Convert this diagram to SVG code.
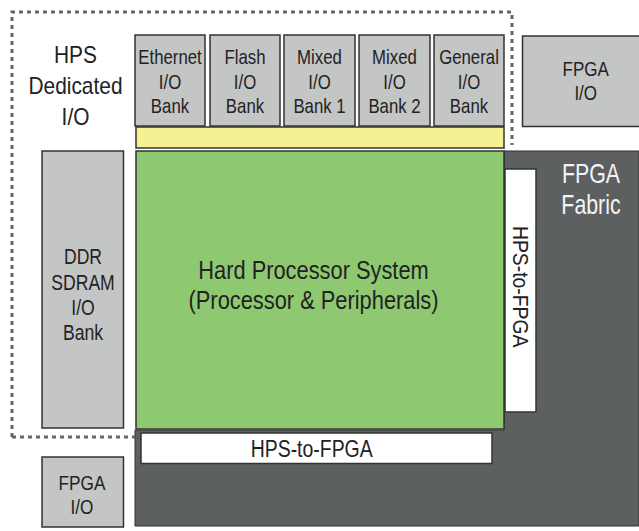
<svg xmlns="http://www.w3.org/2000/svg" width="639" height="531" viewBox="0 0 639 531">
<style>
.io{fill:#c4c5c5;stroke:#333;stroke-width:1.5}
.wb{fill:#fff;stroke:#333;stroke-width:1.5}
text{font-family:"Liberation Sans",Arial,sans-serif;fill:#222;text-anchor:middle}
.s{font-size:20px}
.d{font-size:22px}
.h{font-size:24px}
.l{font-size:26px}
.f{font-size:27px;fill:#f4f4f4}
</style>
<rect width="639" height="531" fill="#fff"/>
<g id="fabric">
<path d="M504,151 H639 V526 H135 V430 H504 Z" fill="#5d6061" stroke="#333" stroke-width="1"/>
<text class="f" transform="translate(591,183.3) scale(0.79,1)">FPGA</text>
<text class="f" transform="translate(591,214) scale(0.79,1)">Fabric</text>
</g>
<g id="hps-dedicated">
<path d="M12,437 V12 H512 V145" fill="none" stroke="#666" stroke-width="3" stroke-dasharray="4,4"/>
<path d="M12,437 H135" fill="none" stroke="#666" stroke-width="3" stroke-dasharray="4,4"/>
<text class="h" transform="translate(75.5,63.3) scale(0.87,1)">HPS</text>
<text class="h" transform="translate(75.5,94.3) scale(0.87,1)">Dedicated</text>
<text class="h" transform="translate(75.5,125) scale(0.87,1)">I/O</text>
</g>
<g id="ethernet"><rect class="io" x="135" y="35" width="70" height="91"/>
<text class="s" transform="translate(170,64) scale(0.84,1)">Ethernet</text><text class="s" transform="translate(170,89) scale(0.84,1)">I/O</text><text class="s" transform="translate(170,113) scale(0.84,1)">Bank</text></g>
<g id="flash"><rect class="io" x="210" y="35" width="70" height="91"/>
<text class="s" transform="translate(245,64) scale(0.84,1)">Flash</text><text class="s" transform="translate(245,89) scale(0.84,1)">I/O</text><text class="s" transform="translate(245,113) scale(0.84,1)">Bank</text></g>
<g id="mixed1"><rect class="io" x="284" y="35" width="71" height="91"/>
<text class="s" transform="translate(319.5,64) scale(0.84,1)">Mixed</text><text class="s" transform="translate(319.5,89) scale(0.84,1)">I/O</text><text class="s" transform="translate(319.5,113) scale(0.84,1)">Bank 1</text></g>
<g id="mixed2"><rect class="io" x="359" y="35" width="71" height="91"/>
<text class="s" transform="translate(394.5,64) scale(0.84,1)">Mixed</text><text class="s" transform="translate(394.5,89) scale(0.84,1)">I/O</text><text class="s" transform="translate(394.5,113) scale(0.84,1)">Bank 2</text></g>
<g id="general"><rect class="io" x="434" y="35" width="70" height="91"/>
<text class="s" transform="translate(469,64) scale(0.84,1)">General</text><text class="s" transform="translate(469,89) scale(0.84,1)">I/O</text><text class="s" transform="translate(469,113) scale(0.84,1)">Bank</text></g>
<g id="fpga-io-top"><rect class="io" x="522.5" y="36" width="120" height="90.5"/>
<text class="s" transform="translate(585.7,76) scale(0.85,1)">FPGA</text><text class="s" transform="translate(585.7,100) scale(0.85,1)">I/O</text></g>
<g id="yellow-bar"><rect x="136" y="127" width="368" height="21" fill="#f5f193" stroke="#333" stroke-width="1.5"/></g>
<g id="hps"><rect x="136" y="151" width="368" height="278" fill="#8ec972" stroke="#333" stroke-width="1.5"/>
<text class="l" transform="translate(313.5,279.3) scale(0.84,1)">Hard Processor System</text>
<text class="l" transform="translate(313.5,308.5) scale(0.84,1)">(Processor &amp; Peripherals)</text></g>
<g id="ddr"><rect class="io" x="42" y="151" width="81.5" height="277"/>
<text class="d" transform="translate(83,264) scale(0.8,1)">DDR</text><text class="d" transform="translate(83,289.5) scale(0.8,1)">SDRAM</text><text class="d" transform="translate(83,314.5) scale(0.8,1)">I/O</text><text class="d" transform="translate(83,339.5) scale(0.8,1)">Bank</text></g>
<g id="hps-to-fpga-v"><rect class="wb" x="505" y="169" width="31" height="243"/>
<text class="d" transform="translate(512.7,286.7) rotate(90) scale(0.88,1)">HPS-to-FPGA</text></g>
<g id="hps-to-fpga-h"><rect class="wb" x="141" y="433" width="351" height="30.5"/>
<text class="h" transform="translate(311.7,457.3) scale(0.81,1)">HPS-to-FPGA</text></g>
<g id="fpga-io-bottom"><rect class="io" x="42" y="457" width="81.5" height="70"/>
<text class="s" transform="translate(82,490) scale(0.86,1)">FPGA</text><text class="s" transform="translate(82,514) scale(0.86,1)">I/O</text></g>
<g id="connectors"></g>
</svg>
